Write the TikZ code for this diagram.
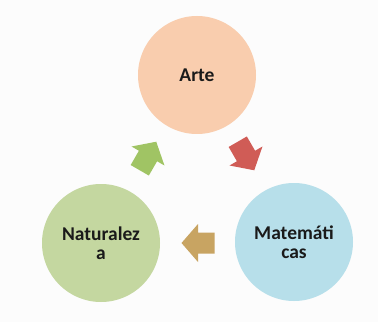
\documentclass[tikz,border=0pt]{standalone}
\usepackage{fontspec}
\setmainfont{Carlito}
\definecolor{bgc}{HTML}{FCFCFC}
\definecolor{artec}{HTML}{F9CDAE}
\definecolor{natc}{HTML}{C4D7A0}
\definecolor{matc}{HTML}{B7DFEA}
\definecolor{redarr}{HTML}{D05C56}
\definecolor{greenarr}{HTML}{A0C464}
\definecolor{brownarr}{HTML}{C8A462}
\definecolor{txt}{HTML}{1A1A1A}
\begin{document}
\begin{tikzpicture}[x=1pt,y=1pt,
  bubble/.style={circle, minimum size=118pt, inner sep=0pt, align=center,
    font=\fontsize{19.5}{19.5}\selectfont\bfseries, text=txt},
  blockarrow/.pic={\fill[pic actions] (-16.5,-10.5) -- (0,-10.5) -- (0,-19) -- (16.5,0) -- (0,19) -- (0,10.5) -- (-16.5,10.5) -- cycle;}]
\fill[bgc] (0,0) rectangle (378,322);
\useasboundingbox (0,0) rectangle (378,322);
\node[bubble, fill=artec] (arte) at (197,247) {Arte};
\node[bubble, fill=natc] (nat) at (101,79) {Naturalez\\a};
\node[bubble, fill=matc] (mat) at (294,80) {Matemáti\\cas};
\coordinate (c) at (197,135);
\pic[fill=redarr, rotate=-60] (ra) at (246,166) {blockarrow};
\pic[fill=greenarr, rotate=60] (ga) at (148,166) {blockarrow};
\pic[fill=brownarr, rotate=180] (ba) at (198,79) {blockarrow};
\end{tikzpicture}
\end{document}
